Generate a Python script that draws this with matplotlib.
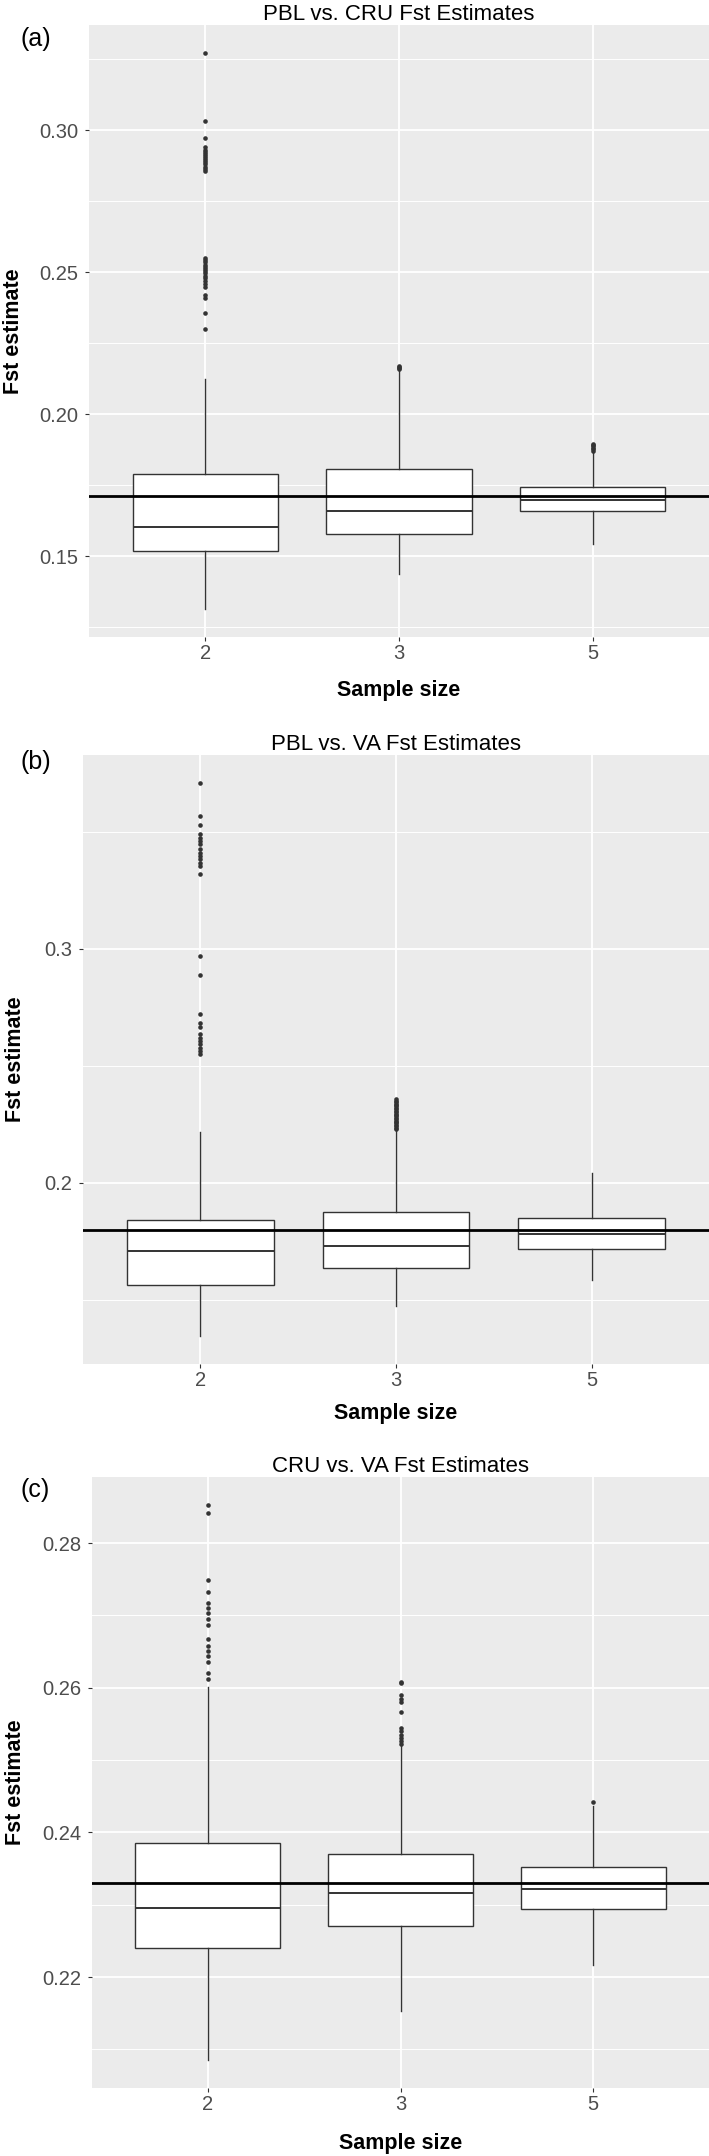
import matplotlib
matplotlib.use("Agg")
import matplotlib.pyplot as plt

plt.rcParams['font.family'] = ['Liberation Sans', 'DejaVu Sans']

sizes = ["2", "3", "5"]

# (a) PBL vs. CRU
pbl_cru_q1 = [0.1519, 0.1579, 0.1658]
pbl_cru_med = [0.1603, 0.1661, 0.1697]
pbl_cru_q3 = [0.1790, 0.1809, 0.1743]
pbl_cru_lo = [0.1314, 0.1437, 0.1543]
pbl_cru_hi = [0.2123, 0.2158, 0.1868]
pbl_cru_out2 = [0.3273, 0.3033, 0.2973, 0.2940, 0.2932, 0.2925, 0.2918, 0.2910,
                0.2902, 0.2895, 0.2888, 0.2880, 0.2872, 0.2864, 0.2857, 0.2550,
                0.2542, 0.2535, 0.2527, 0.2520, 0.2512, 0.2505, 0.2497, 0.2488,
                0.2480, 0.2470, 0.2460, 0.2450, 0.2421, 0.2409, 0.2356, 0.2300]
pbl_cru_out3 = [0.2160, 0.2164, 0.2168, 0.2171]
pbl_cru_out5 = [0.1872, 0.1877, 0.1882, 0.1887, 0.1892, 0.1897]
pbl_cru_ref = 0.1713

# (b) PBL vs. VA
pbl_va_q1 = [0.1561, 0.1637, 0.1716]
pbl_va_med = [0.1708, 0.1731, 0.1782]
pbl_va_q3 = [0.1839, 0.1875, 0.1851]
pbl_va_lo = [0.1343, 0.1471, 0.1582]
pbl_va_hi = [0.2216, 0.2222, 0.2043]
pbl_va_out2 = [0.3711, 0.3570, 0.3530, 0.3490, 0.3476, 0.3462, 0.3447, 0.3426,
               0.3412, 0.3397, 0.3383, 0.3369, 0.3355, 0.3319, 0.2970, 0.2887,
               0.2721, 0.2685, 0.2667, 0.2635, 0.2621, 0.2607, 0.2593, 0.2578,
               0.2564, 0.2550]
pbl_va_out3 = [0.2357, 0.2350, 0.2345, 0.2338, 0.2333, 0.2326, 0.2320, 0.2314,
               0.2308, 0.2302, 0.2296, 0.2290, 0.2284, 0.2278, 0.2272, 0.2266,
               0.2260, 0.2254, 0.2248, 0.2242, 0.2236, 0.2229]
pbl_va_out5 = []
pbl_va_ref = 0.1798

# (c) CRU vs. VA
cru_va_q1 = [0.2240, 0.2270, 0.2294]
cru_va_med = [0.2296, 0.2316, 0.2322]
cru_va_q3 = [0.2385, 0.2370, 0.2352]
cru_va_lo = [0.2085, 0.2153, 0.2216]
cru_va_hi = [0.2601, 0.2520, 0.2436]
cru_va_out2 = [0.2853, 0.2842, 0.2749, 0.2732, 0.2717, 0.2710, 0.2703, 0.2695,
               0.2687, 0.2667, 0.2658, 0.2651, 0.2644, 0.2636, 0.2621, 0.2612]
cru_va_out3 = [0.2608, 0.2606, 0.2590, 0.2584, 0.2580, 0.2567, 0.2545, 0.2540,
               0.2535, 0.2530, 0.2526, 0.2522]
cru_va_out5 = [0.2442]
cru_va_ref = 0.2330

W, H = 709, 2156
fig = plt.figure(figsize=(W / 100, H / 100), dpi=100)


def px_axes(left, top, right, bottom):
    return fig.add_axes([left / W, 1 - bottom / H, (right - left) / W, (bottom - top) / H])


def draw_panel(ax, q1, med, q3, lo, hi, fliers, ref, title, major, minor, fmt):
    stats = []
    for i in range(3):
        stats.append(dict(q1=q1[i], med=med[i], q3=q3[i], whislo=lo[i],
                          whishi=hi[i], fliers=fliers[i], label=sizes[i]))
    ax.bxp(stats, positions=[1, 2, 3], widths=0.75, patch_artist=True, showcaps=False,
           boxprops=dict(facecolor='white', edgecolor='#333333', linewidth=1.0),
           medianprops=dict(color='#333333', linewidth=1.4),
           whiskerprops=dict(color='#333333', linewidth=1.0),
           flierprops=dict(marker='o', markersize=3.3, markerfacecolor='#333333',
                           markeredgecolor='none', linestyle='none'))
    ax.axhline(ref, color='black', linewidth=2.0, zorder=4)
    ax.set_facecolor('#EBEBEB')
    for s in ax.spines.values():
        s.set_visible(False)
    ax.set_xlim(0.4, 3.6)
    ax.set_yticks(major)
    ax.set_yticklabels([fmt % v for v in major])
    ax.set_yticks(minor, minor=True)
    ax.grid(which='major', color='white', linewidth=1.3)
    ax.grid(which='minor', axis='y', color='white', linewidth=0.7)
    ax.set_axisbelow(True)
    ax.tick_params(which='major', length=3, width=0.8, color='#333333',
                   labelcolor='#4D4D4D', labelsize=14.5)
    ax.tick_params(axis='y', pad=4.5)
    ax.tick_params(axis='x', pad=2)
    ax.tick_params(which='minor', length=0)
    ax.set_title(title, fontsize=16, pad=3)


panels = [
    dict(box=(89, 25, 709, 637), tag="(a)", tag_y=39, ylab_x=14, xlab_y=690,
         q1=pbl_cru_q1, med=pbl_cru_med, q3=pbl_cru_q3, lo=pbl_cru_lo, hi=pbl_cru_hi,
         fliers=[pbl_cru_out2, pbl_cru_out3, pbl_cru_out5], ref=pbl_cru_ref,
         title="PBL vs. CRU Fst Estimates", major=[0.15, 0.20, 0.25, 0.30],
         minor=[0.125, 0.175, 0.225, 0.275, 0.325], fmt="%.2f"),
    dict(box=(83, 755, 709, 1364), tag="(b)", tag_y=762, ylab_x=16, xlab_y=1413,
         q1=pbl_va_q1, med=pbl_va_med, q3=pbl_va_q3, lo=pbl_va_lo, hi=pbl_va_hi,
         fliers=[pbl_va_out2, pbl_va_out3, pbl_va_out5], ref=pbl_va_ref,
         title="PBL vs. VA Fst Estimates", major=[0.2, 0.3],
         minor=[0.15, 0.25, 0.35], fmt="%.1f"),
    dict(box=(92, 1477, 709, 2088), tag="(c)", tag_y=1490, ylab_x=16, xlab_y=2143,
         q1=cru_va_q1, med=cru_va_med, q3=cru_va_q3, lo=cru_va_lo, hi=cru_va_hi,
         fliers=[cru_va_out2, cru_va_out3, cru_va_out5], ref=cru_va_ref,
         title="CRU vs. VA Fst Estimates", major=[0.22, 0.24, 0.26, 0.28],
         minor=[0.21, 0.23, 0.25, 0.27], fmt="%.2f"),
]

for p in panels:
    left, top, right, bottom = p["box"]
    ax = px_axes(left, top, right, bottom)
    draw_panel(ax, p["q1"], p["med"], p["q3"], p["lo"], p["hi"], p["fliers"],
               p["ref"], p["title"], p["major"], p["minor"], p["fmt"])
    fig.text(21 / W, 1 - p["tag_y"] / H, p["tag"], fontsize=18, ha='left', va='center')
    fig.text(p["ylab_x"] / W, 1 - (top + bottom) / 2 / H, "Fst estimate", fontsize=15.5,
             fontweight='bold', rotation=90, ha='center', va='center')
    fig.text((left + right) / 2 / W, 1 - p["xlab_y"] / H, "Sample size", fontsize=15.5,
             fontweight='bold', ha='center', va='center')

fig.savefig("out.png", dpi=100)
plt.close()
